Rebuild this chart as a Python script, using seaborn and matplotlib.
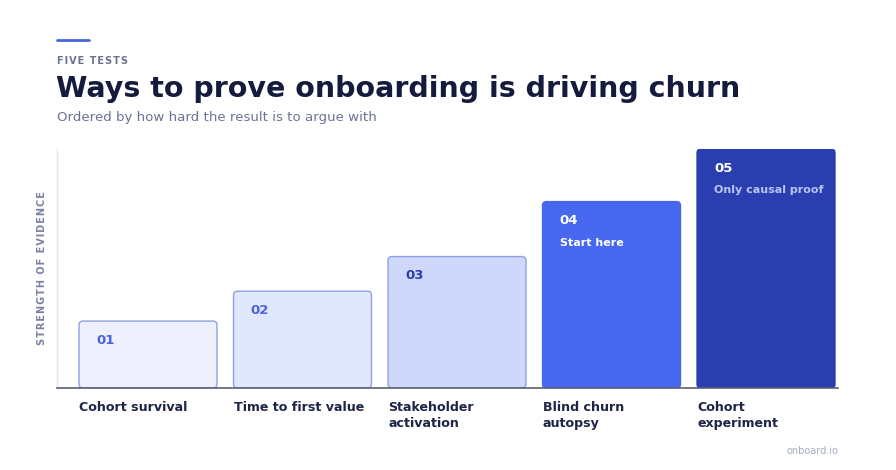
import matplotlib
matplotlib.use("Agg")
import matplotlib.pyplot as plt
import seaborn as sns
from matplotlib.patches import FancyBboxPatch
from matplotlib.transforms import blended_transform_factory

# ---- data ----
tests = ["Cohort survival", "Time to first value", "Stakeholder\nactivation",
         "Blind churn\nautopsy", "Cohort\nexperiment"]
numbers = ["01", "02", "03", "04", "05"]
strength = [28, 40.5, 55, 78, 100]
notes = ["", "", "", "Start here", "Only causal proof"]

fills = ["#EEF1FD", "#E1E7FC", "#CED8FA", "#4767EF", "#2B3EAF"]
edges = ["#8FA0E6", "#8FA0E6", "#8FA0E6", "#4767EF", "#2B3EAF"]
num_colors = ["#4A63E0", "#4A63E0", "#2B3EAF", "#FFFFFF", "#FFFFFF"]
note_colors = ["#FFFFFF", "#FFFFFF", "#FFFFFF", "#FFFFFF", "#B8C4F5"]

sns.set_theme(style="white")
plt.rcParams["font.family"] = ["DejaVu Sans"]

W, H = 896, 470
fig = plt.figure(figsize=(W / 100, H / 100), dpi=100)
fig.patch.set_facecolor("white")

ax_l, ax_r, ax_b, ax_t = 57, 838, 388, 149
ax = fig.add_axes([ax_l / W, 1 - ax_b / H, (ax_r - ax_l) / W, (ax_b - ax_t) / H])

bw = 0.893
sns.barplot(x=tests, y=strength, hue=tests, palette=fills, legend=False,
            width=bw, ax=ax, linewidth=0, saturation=1)
ax.set_xlim(-0.589, 4.466)
ax.set_ylim(0, 100)

# convert to rounded bars
xpx = (ax_r - ax_l) / (4.466 + 0.589)
ypx = (ax_b - ax_t) / 100
rs = 4 / xpx
aspect = xpx / ypx
bars = list(ax.patches)
tr = blended_transform_factory(ax.transData, ax.transAxes)
for i, p in enumerate(bars):
    x0, y0, w, h = p.get_x(), p.get_y(), p.get_width(), p.get_height()
    p.set_visible(False)
    fb = FancyBboxPatch((x0, y0), w, h,
                        boxstyle=f"round,pad=0,rounding_size={rs}",
                        mutation_aspect=aspect,
                        facecolor=fills[i], edgecolor=edges[i], linewidth=1,
                        zorder=2)
    ax.add_patch(fb)
    # numbers inside
    ax.text(x0 + 17 / xpx, h - 19 / ypx, numbers[i], ha="left", va="center",
            fontsize=9.5, fontweight="bold", color=num_colors[i], zorder=3)
    if notes[i]:
        ax.text(x0 + 17 / xpx, h - 41 / ypx, notes[i], ha="left", va="center",
                fontsize=8, fontweight="bold", color=note_colors[i], zorder=3)
    # category label below
    ax.text(x0, -13 / (ax_b - ax_t), tests[i], transform=tr, ha="left", va="top",
            fontsize=9.1, fontweight="bold", color="#1E2546", linespacing=1.3)

ax.set_xticks([])
ax.set_yticks([])
ax.set_xlabel("")
ax.set_ylabel("")
for s in ["top", "right"]:
    ax.spines[s].set_visible(False)
ax.spines["left"].set_color("#E3E6EF")
ax.spines["left"].set_linewidth(1)
ax.spines["bottom"].set_color("#5A5F73")
ax.spines["bottom"].set_linewidth(1.2)
ax.spines["bottom"].set_zorder(4)

def spaced(s):
    return "\u200a".join(s)

# header
fig.add_artist(plt.Line2D([57 / W, 89 / W], [1 - 40 / H, 1 - 40 / H],
                          color="#4A63E0", linewidth=2))
fig.text(57 / W, 1 - 61 / H, spaced("FIVE TESTS"), ha="left", va="center",
         fontsize=7, fontweight="bold", color="#6B7394")
fig.text(56 / W, 1 - 89 / H, "Ways to prove onboarding is driving churn",
         ha="left", va="center", fontsize=20.5, fontweight="bold", color="#141B3D")
fig.text(57 / W, 1 - 117 / H, "Ordered by how hard the result is to argue with",
         ha="left", va="center", fontsize=9.6, color="#6B7394")
fig.text(42 / W, 1 - 268 / H, spaced("STRENGTH OF EVIDENCE"), ha="center",
         va="center", rotation=90, fontsize=7, fontweight="bold", color="#7A819E")
fig.text(838 / W, 1 - 451 / H, "onboard.io", ha="right", va="center",
         fontsize=7, color="#A6ABC0")

fig.savefig("out.png", dpi=100, facecolor="white")
